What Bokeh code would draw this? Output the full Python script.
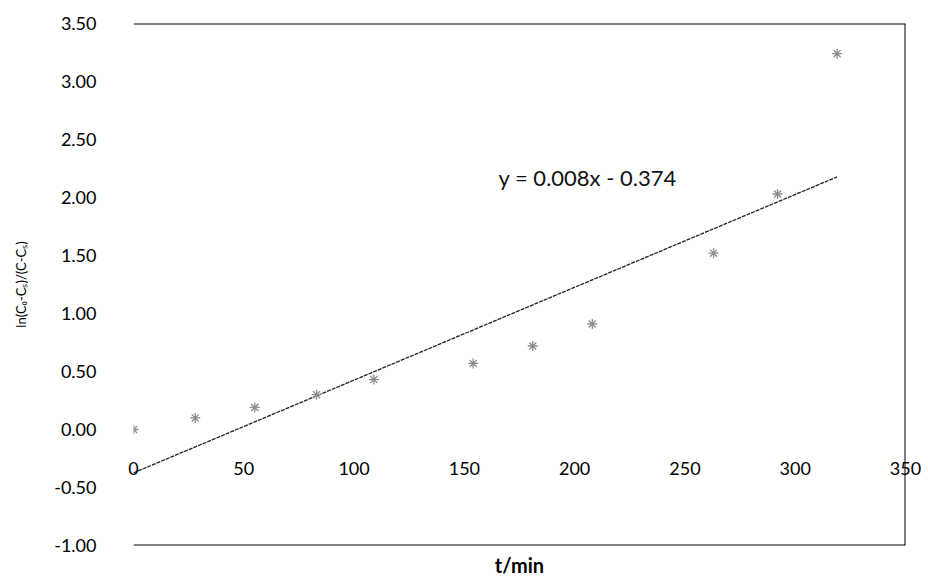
from bokeh.plotting import figure
from bokeh.models import (ColumnDataSource, Range1d, Span, Label, FixedTicker,
                          NumeralTickFormatter)
from bokeh.embed import file_html
from bokeh.resources import INLINE

# Measured series: time (min) vs ln[(C0-Cs)/(C-Cs)]
t_min = [0, 28, 55, 83, 109, 154, 181, 208, 263, 292, 319]
ln_ratio = [0.00, 0.10, 0.19, 0.30, 0.43, 0.57, 0.72, 0.91, 1.52, 2.03, 3.24]

# Linear trendline coefficients
slope = 0.008
intercept = -0.374

x_ticks = [0, 50, 100, 150, 200, 250, 300, 350]
x_tick_labels = ["0", "50", "100", "150", "200", "250", "300", "350"]
y_ticks = [-1.0, -0.5, 0.0, 0.5, 1.0, 1.5, 2.0, 2.5, 3.0, 3.5]

FONT = "Lato"

p = figure(width=928, height=579, output_backend="svg", toolbar_location=None,
           x_range=Range1d(0, 350), y_range=Range1d(-1.0, 3.5),
           min_border_left=133, min_border_right=23, min_border_top=23,
           min_border_bottom=30)
p.outline_line_color = None
p.grid.visible = False
p.background_fill_color = "white"
p.border_fill_color = "white"

# Y axis: labels only, no line or ticks
p.yaxis.ticker = FixedTicker(ticks=y_ticks)
p.yaxis.formatter = NumeralTickFormatter(format="0.00")
p.yaxis.axis_line_color = None
p.yaxis.major_tick_line_color = None
p.yaxis.minor_tick_line_color = None
p.yaxis.major_label_standoff = 31
p.yaxis.major_label_text_font = FONT
p.yaxis.major_label_text_font_size = "18px"
p.yaxis.major_label_text_color = "black"
p.yaxis.axis_label = "ln(C\u2080-C\u209b)/(C-C\u209b)"
p.yaxis.axis_label_text_font = FONT
p.yaxis.axis_label_text_font_size = "13px"
p.yaxis.axis_label_text_font_style = "normal"
p.yaxis.axis_label_text_color = "black"
p.yaxis.axis_label_standoff = 22

# X axis: tick labels sit just under the zero line (pulled up with a
# negative standoff), title at the bottom
p.xaxis.ticker = FixedTicker(ticks=x_ticks)
p.xaxis.major_label_overrides = {float(v): s for v, s in zip(x_ticks, x_tick_labels)}
p.xaxis.axis_line_color = None
p.xaxis.major_tick_line_color = None
p.xaxis.minor_tick_line_color = None
p.xaxis.major_label_standoff = -90
p.xaxis.major_label_text_font = FONT
p.xaxis.major_label_text_font_size = "18px"
p.xaxis.major_label_text_color = "black"
p.xaxis.axis_label = "t/min"
p.xaxis.axis_label_text_font = FONT
p.xaxis.axis_label_text_font_size = "20px"
p.xaxis.axis_label_text_font_style = "bold"
p.xaxis.axis_label_text_color = "black"
p.xaxis.axis_label_standoff = 75

# Frame borders: top, right and bottom
for loc, dim in [(3.5, "width"), (-1.0, "width"), (350, "height")]:
    p.add_layout(Span(location=loc, dimension=dim, line_color="black",
                      line_width=2))

# Trendline
tx = [0, max(t_min)]
ty = [slope * v + intercept for v in tx]
p.line(tx, ty, line_color="#222222", line_width=1.3, line_dash="4 1")

# Data points
src = ColumnDataSource(dict(t=t_min, y=ln_ratio))
p.scatter(x="t", y="y", source=src, marker="asterisk", size=10,
          line_color="#8c8c8c", line_width=1.3)

# Trendline equation
p.add_layout(Label(x=165.5, y=2.17, text="y = %.3fx - %.3f" % (slope, -intercept),
                   text_font=FONT, text_font_size="22px", text_color="#111111",
                   text_baseline="middle", text_align="left"))

open("out.html", "w").write(file_html(p, INLINE))
